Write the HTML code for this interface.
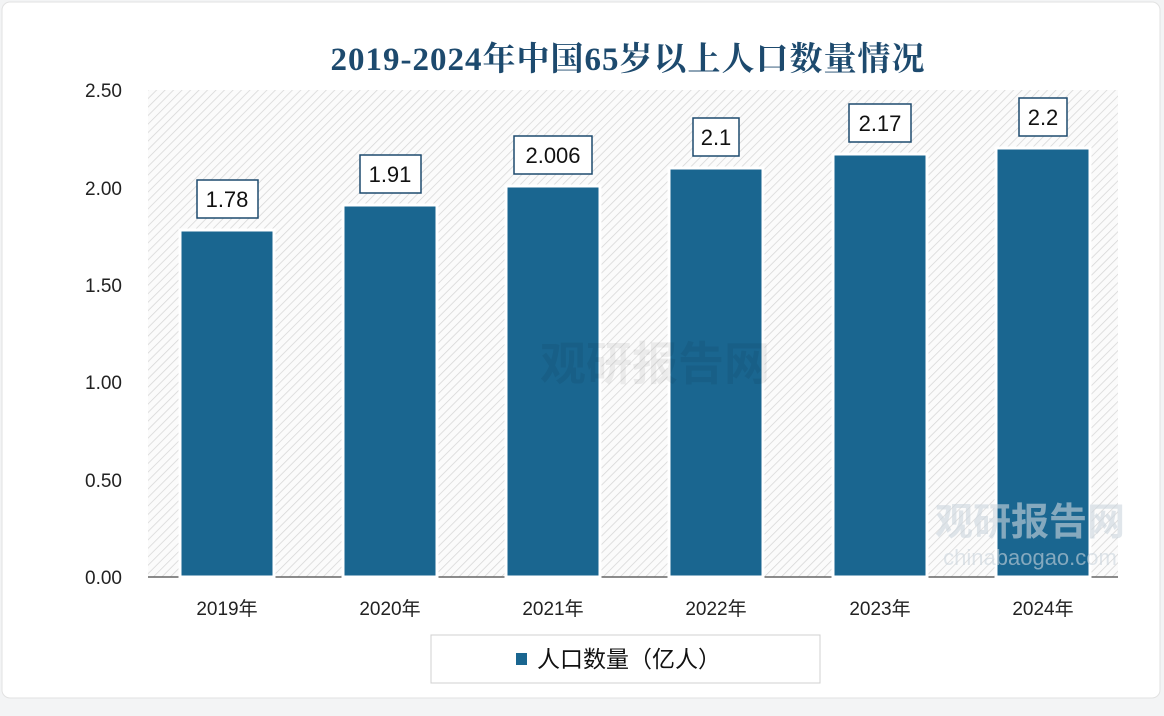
<!DOCTYPE html>
<html><head><meta charset="utf-8"><style>
html,body{margin:0;padding:0;background:#fff;}
svg{display:block;font-family:"Liberation Sans","Noto Sans CJK SC",sans-serif;}
</style></head><body>
<svg width="1164" height="716" viewBox="0 0 1164 716" xmlns="http://www.w3.org/2000/svg">
<defs>
<pattern id="h" width="6" height="6" patternUnits="userSpaceOnUse" patternTransform="rotate(45)">
<rect width="6" height="6" fill="#fbfbfb"/>
<line x1="0" y1="0" x2="0" y2="6" stroke="#d6d6d6" stroke-width="1.5"/>
</pattern>
</defs>
<rect x="0" y="0" width="1164" height="716" fill="#f3f4f5"/>
<rect x="2" y="2" width="1158" height="696" rx="8" fill="#fff" stroke="#e2e2e2"/>
<text x="628" y="70" font-size="33" font-weight="bold" fill="#1d4a6e" text-anchor="middle" letter-spacing="1" font-family="Liberation Serif,'Noto Serif CJK SC',serif">2019-2024年中国65岁以上人口数量情况</text>
<rect x="148" y="90" width="970" height="487" fill="url(#h)"/>
<line x1="148" y1="577" x2="1118" y2="577" stroke="#666" stroke-width="1.5"/>
<g font-size="19" fill="#222" text-anchor="end">
<text x="122" y="97">2.50</text><text x="122" y="195">2.00</text><text x="122" y="292">1.50</text>
<text x="122" y="389">1.00</text><text x="122" y="487">0.50</text><text x="122" y="584">0.00</text>
</g>
<g fill="#1a6690" stroke="#fff" stroke-width="3">
<rect x="180" y="230" width="94" height="347"/>
<rect x="343" y="205" width="94" height="372"/>
<rect x="506" y="186" width="94" height="391"/>
<rect x="669" y="168" width="94" height="409"/>
<rect x="833" y="154" width="94" height="423"/>
<rect x="996" y="148" width="94" height="429"/>
</g>
<g fill="#fff" stroke="#1d4a6e" stroke-width="1.5">
<rect x="197" y="180" width="61" height="38"/>
<rect x="360" y="155" width="61" height="38"/>
<rect x="514" y="136" width="78" height="38"/>
<rect x="693" y="118" width="46" height="38"/>
<rect x="849" y="104" width="62" height="38"/>
<rect x="1019" y="98" width="48" height="38"/>
</g>
<g font-size="22" fill="#111" text-anchor="middle">
<text x="227" y="207">1.78</text><text x="390" y="182">1.91</text><text x="553" y="163">2.006</text>
<text x="716" y="145">2.1</text><text x="880" y="131">2.17</text><text x="1043" y="125">2.2</text>
</g>
<g font-size="19" fill="#222" text-anchor="middle">
<text x="227" y="615">2019年</text><text x="390" y="615">2020年</text><text x="553" y="615">2021年</text>
<text x="716" y="615">2022年</text><text x="880" y="615">2023年</text><text x="1043" y="615">2024年</text>
</g>
<rect x="431" y="635" width="389" height="48" fill="#fff" stroke="#d0d0d0"/>
<rect x="516" y="653" width="11" height="12" fill="#1a6690"/>
<text x="537" y="667" font-size="23" fill="#111">人口数量（亿人）</text>
<text x="540" y="380" font-size="46" font-weight="bold" fill="#000" opacity="0.06">观研报告网</text>
<text x="1030" y="535" font-size="38" font-weight="bold" fill="#ccd6de" opacity="0.6" text-anchor="middle">观研报告网</text>
<text x="1030" y="565" font-size="22" fill="#ccd6de" opacity="0.6" text-anchor="middle">chinabaogao.com</text>
</svg>
</body></html>
